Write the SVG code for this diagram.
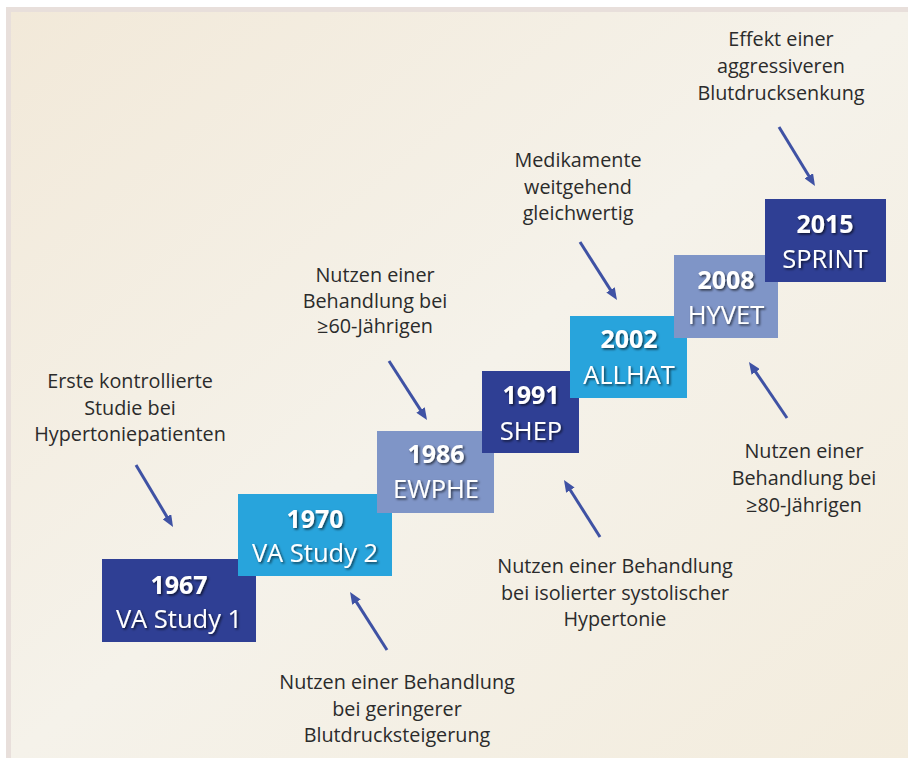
<svg xmlns="http://www.w3.org/2000/svg" width="908" height="758" viewBox="0 0 908 758">
<defs>
<linearGradient id="bg" x1="0" y1="0" x2="1" y2="1">
<stop offset="0" stop-color="#f2e9d9"/>
<stop offset="0.5" stop-color="#f5f2ea"/>
<stop offset="1" stop-color="#f3ecdd"/>
</linearGradient>
<filter id="sh" x="-10%" y="-20%" width="130%" height="150%">
<feDropShadow dx="1.5" dy="1.5" stdDeviation="0.8" flood-color="#000" flood-opacity="0.65"/>
</filter>
<marker id="ah" markerUnits="userSpaceOnUse" markerWidth="12" markerHeight="10" refX="2" refY="5" orient="auto">
<path d="M0,0 L12,5 L0,10 z" fill="#3f52a4"/>
</marker>
</defs>
<style>
.dark{fill:#2f3f94}
.light{fill:#28a4dc}
.peri{fill:#7f95c7}
.yr{font-family:"Open Sans","Liberation Sans",sans-serif;font-weight:bold;font-size:25px;fill:#fff;text-anchor:middle}
.nm{font-family:"Open Sans","Liberation Sans",sans-serif;font-size:25.5px;fill:#fff;text-anchor:middle}
.lbl{font-family:"Open Sans","Liberation Sans",sans-serif;font-size:19.8px;fill:#2b2b2b;text-anchor:middle}
.arr{stroke:#3f52a4;stroke-width:3;fill:none;marker-end:url(#ah)}
</style>
<rect x="0" y="0" width="908" height="758" fill="#fff"/>
<rect x="6" y="7" width="902" height="751" fill="#e8dfdb"/>
<rect x="11" y="12" width="897" height="746" fill="url(#bg)"/>

<g id="n1967">
<rect class="dark" x="102" y="559" width="154" height="83"/>
<g filter="url(#sh)"><text class="yr" x="179" y="594">1967</text><text class="nm" x="179" y="628">VA Study 1</text></g>
</g>
<g id="n1970">
<rect class="light" x="238" y="494" width="154" height="82"/>
<g filter="url(#sh)"><text class="yr" x="315" y="528">1970</text><text class="nm" x="315" y="562">VA Study 2</text></g>
</g>
<g id="n1986">
<rect class="peri" x="377" y="431" width="117" height="82"/>
<g filter="url(#sh)"><text class="yr" x="436" y="463">1986</text><text class="nm" x="436" y="498">EWPHE</text></g>
</g>
<g id="n1991">
<rect class="dark" x="482" y="371" width="97" height="82"/>
<g filter="url(#sh)"><text class="yr" x="531" y="404">1991</text><text class="nm" x="531" y="440">SHEP</text></g>
</g>
<g id="n2002">
<rect class="light" x="570" y="316" width="117" height="82"/>
<g filter="url(#sh)"><text class="yr" x="629" y="348">2002</text><text class="nm" x="629" y="384">ALLHAT</text></g>
</g>
<g id="n2008">
<rect class="peri" x="674" y="255" width="104" height="83"/>
<g filter="url(#sh)"><text class="yr" x="726" y="289">2008</text><text class="nm" x="726" y="324">HYVET</text></g>
</g>
<g id="n2015">
<rect class="dark" x="765" y="199" width="121" height="83"/>
<g filter="url(#sh)"><text class="yr" x="825" y="233">2015</text><text class="nm" x="825" y="268">SPRINT</text></g>
</g>

<g id="labels">
<text class="lbl" x="130" y="388"><tspan x="130">Erste kontrollierte</tspan><tspan x="130" dy="26.5">Studie bei</tspan><tspan x="130" dy="26.5">Hypertoniepatienten</tspan></text>
<text class="lbl" x="375" y="282"><tspan x="375">Nutzen einer</tspan><tspan x="375" dy="25.5">Behandlung bei</tspan><tspan x="375" dy="25.5">≥60-Jährigen</tspan></text>
<text class="lbl" x="397" y="689"><tspan x="397">Nutzen einer Behandlung</tspan><tspan x="397" dy="26.5">bei geringerer</tspan><tspan x="397" dy="26.5">Blutdrucksteigerung</tspan></text>
<text class="lbl" x="615" y="573"><tspan x="615">Nutzen einer Behandlung</tspan><tspan x="615" dy="26.5">bei isolierter systolischer</tspan><tspan x="615" dy="26.5">Hypertonie</tspan></text>
<text class="lbl" x="578" y="167"><tspan x="578">Medikamente</tspan><tspan x="578" dy="26.5">weitgehend</tspan><tspan x="578" dy="26.5">gleichwertig</tspan></text>
<text class="lbl" x="804" y="458"><tspan x="804">Nutzen einer</tspan><tspan x="804" dy="27">Behandlung bei</tspan><tspan x="804" dy="27">≥80-Jährigen</tspan></text>
<text class="lbl" x="781" y="46"><tspan x="781">Effekt einer</tspan><tspan x="781" dy="27">aggressiveren</tspan><tspan x="781" dy="27">Blutdrucksenkung</tspan></text>
</g>

<g id="connectors">
<line class="arr" x1="136" y1="465" x2="167.9" y2="518.4"/>
<line class="arr" x1="389" y1="361" x2="421.6" y2="411.6"/>
<line class="arr" x1="387" y1="650" x2="355.4" y2="600.4"/>
<line class="arr" x1="600" y1="537" x2="569.3" y2="488.5"/>
<line class="arr" x1="580" y1="242" x2="611.6" y2="291.6"/>
<line class="arr" x1="787" y1="418" x2="754.6" y2="370.3"/>
<line class="arr" x1="779" y1="127" x2="809.8" y2="177.5"/>
</g>
</svg>
